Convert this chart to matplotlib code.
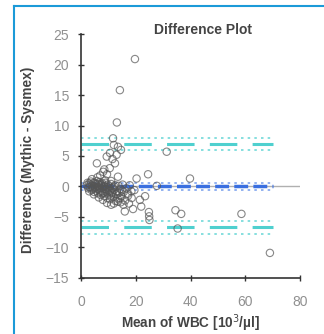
import matplotlib
matplotlib.use("Agg")
import matplotlib.pyplot as plt
from matplotlib.lines import Line2D

plt.rcParams['font.family'] = ['Liberation Sans', 'DejaVu Sans']

# mean of WBC (x) and difference Mythic - Sysmex (y)
mean_wbc = [
    19.7, 14.2, 13.1, 11.7, 13.5, 14.6, 10.6, 9.4, 12.4, 5.8, 31.3, 8.1, 9.5,
    13.5, 24.5, 20.3, 39.8, 27.7, 16.0, 19.0, 22.0, 24.8, 24.9, 25.0, 34.5,
    36.6, 58.6, 23.4, 21.5, 18.5, 13.5, 35.3, 69.0, 12.0, 13.0, 11.5, 10.5,
    8.5, 7.0, 17.0, 19.5, 15.5, 17.5,
    2.1, 2.6, 3.0, 3.3, 3.6, 3.9, 4.1, 4.3, 4.6, 4.8, 5.0, 5.2, 5.4, 5.6, 5.8,
    6.0, 6.2, 6.4, 6.6, 6.8, 7.0, 7.2, 7.4, 7.6, 7.8, 8.0, 8.2, 8.4, 8.6, 8.8,
    9.0, 9.2, 9.4, 9.6, 9.8, 10.0, 10.2, 10.4, 10.6, 10.8, 11.0, 11.3, 11.6,
    11.9, 12.2, 12.5, 12.8, 13.1, 13.4, 13.7, 14.0, 14.4, 14.8, 15.2, 15.6,
    16.1, 16.6, 17.2, 17.8, 18.4, 3.4, 4.4, 5.1, 5.9, 6.3, 6.9, 7.3, 7.9, 8.5,
    9.1, 9.7, 10.3, 10.9, 11.5, 12.1, 12.7, 13.3, 14.2, 15.0, 4.0, 6.0, 8.8,
    11.0, 3.0, 4.7, 6.5, 8.0, 9.5, 11.0, 12.0, 14.5, 2.4, 2.8,
]
difference = [
    20.9, 15.8, 10.5, 7.9, 6.5, 6.0, 5.5, 4.9, 3.8, 3.8, 5.7, 2.4, 2.0,
    1.6, 2.0, 1.3, 1.3, 0.1, -4.1, -3.7, -3.3, -4.2, -4.9, -5.5, -3.9,
    -4.5, -4.5, -1.6, -2.2, -1.9, -2.5, -6.9, -10.9, 6.8, 5.2, 4.5, 3.0,
    2.8, 1.8, -1.2, -0.6, -3.0, -2.8,
    0.2, -0.3, 0.5, -0.1, 0.8, -0.6, 0.1, -0.4, 0.6, -0.9, 0.0, -0.2, 0.4, -0.7, 0.9,
    -0.1, -1.1, 0.3, -0.5, 0.7, -0.3, -1.4, 0.2, -0.8, 0.5, -0.2, -1.0, 0.1, -1.6, -0.4,
    0.6, -0.9, -0.1, -1.9, 0.3, -0.6, -1.3, 0.0, -2.1, -0.7, 0.4, -1.1, -0.2,
    -1.7, -0.5, 0.2, -1.3, -0.8, -2.0, 0.1, -1.0, -0.4, -1.6, 0.3, -0.9,
    -2.3, -0.3, -1.5, 0.2, -0.8, 0.3, -0.2, 0.6, -0.4, 0.0, -0.9, 0.4, -1.2, 0.0,
    -0.5, -1.0, -0.3, -1.5, -0.9, 0.0, -2.4, -1.2, -1.9, -0.6, 1.2, 1.5, 1.0,
    0.9, -0.8, -1.3, -1.8, -2.2, -2.7, -3.0, -2.8, -2.6, 0.6, -0.1,
]

# bias and limits of agreement with their confidence bands
bias = 0.1
bias_ci = [-0.5, 0.6]
upper_loa = 7.0
upper_ci = [6.0, 7.9]
lower_loa = -6.7
lower_ci = [-5.7, -7.8]
line_end = 70

fig = plt.figure(figsize=(3.24, 3.34), dpi=100)
ax = fig.add_axes([0.25, 0.168, 0.676, 0.73])

ax.plot([0, 80], [0, 0], color='#b0b0b0', lw=1, zorder=1)

ax.scatter(mean_wbc, difference, s=28, facecolors='none',
           edgecolors='#555555', linewidths=0.8, alpha=0.7, zorder=3)

cyan = '#4fd0cf'
blue = '#3a6fe0'
ax.plot([0, line_end], [upper_loa] * 2, color=cyan, lw=2.2, dashes=(9, 5), zorder=2)
ax.plot([0, line_end], [lower_loa] * 2, color=cyan, lw=2.2, dashes=(9, 5), zorder=2)
for v in upper_ci + lower_ci:
    ax.plot([0, line_end], [v, v], color=cyan, lw=1.2, dashes=(1.5, 2.5), alpha=0.8, zorder=2)
ax.plot([0, line_end], [bias, bias], color=blue, lw=2.5, dashes=(4, 1.5), zorder=2)
for v in bias_ci:
    ax.plot([0, line_end], [v, v], color='#7fa4ee', lw=1.2, dashes=(1.5, 2.5), zorder=2)

ax.set_xlim(0, 80)
ax.set_ylim(-15, 25)
ax.set_xticks([0, 20, 40, 60, 80])
ax.set_yticks([-15, -10, -5, 0, 5, 10, 15, 20, 25])
for s in ['top', 'right']:
    ax.spines[s].set_visible(False)
for s in ['left', 'bottom']:
    ax.spines[s].set_color('#333333')
    ax.spines[s].set_linewidth(1.2)
ax.tick_params(direction='inout', length=5, width=1, color='#333333',
               labelcolor='#909090', labelsize=10)
ax.tick_params(axis='x', pad=10)
ax.tick_params(axis='y', pad=6)

fig.text(0.627, 0.91, 'Difference Plot', ha='center', va='center',
         fontsize=10, fontweight='bold', color='#444444')
fig.text(0.086, 0.52, 'Difference (Mythic - Sysmex)', ha='center', va='center',
         rotation=90, fontsize=9.8, fontweight='bold', color='#444444')
fig.text(0.587, 0.033, 'Mean of WBC [10$^3$/\u00b5l]', ha='center', va='center',
         fontsize=9.8, fontweight='bold', color='#444444')

# blue frame along left and top edges
fig.add_artist(Line2D([0.044, 0.044], [0, 0.982], color='#1b9ad8', lw=1.5))
fig.add_artist(Line2D([0.044, 1.0], [0.982, 0.982], color='#1b9ad8', lw=1.5))

fig.savefig('out.png', dpi=100)
